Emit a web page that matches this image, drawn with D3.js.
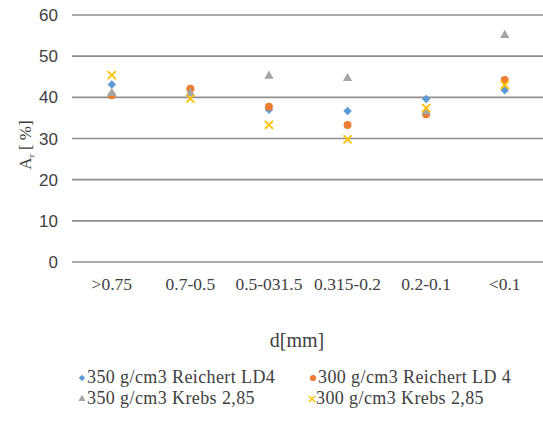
<!DOCTYPE html>
<html><head><meta charset="utf-8">
<script src="https://cdn.jsdelivr.net/npm/d3@7"></script>
<style>body{margin:0;background:#fff}svg{display:block}
.serif{font-family:"Liberation Serif","Times New Roman","DejaVu Serif",serif}
.sans{font-family:"Liberation Sans Narrow","Liberation Sans",Arial,sans-serif}
</style>
</head><body>
<script>
const categories = [">0.75", "0.7-0.5", "0.5-031.5", "0.315-0.2", "0.2-0.1", "<0.1"];
const reichert350 = [43.1, 42.0, 37.0, 36.7, 39.6, 41.7];
const reichert300 = [40.5, 42.1, 37.7, 33.3, 35.9, 44.2];
const krebs350 = [41.0, 41.0, 45.2, 44.6, 36.5, 55.1];
const krebs300 = [45.4, 39.7, 33.3, 29.8, 37.4, 43.0];
const yTicks = [0, 10, 20, 30, 40, 50, 60];
const seriesNames = ["350 g/cm3 Reichert LD4", "300 g/cm3 Reichert LD 4", "350 g/cm3 Krebs 2,85", "300 g/cm3 Krebs 2,85"];

const diamond = {draw(ctx, size) { const r = Math.sqrt(size / 2); ctx.moveTo(0, -r); ctx.lineTo(r, 0); ctx.lineTo(0, r); ctx.lineTo(-r, 0); ctx.closePath(); }};

const series = [
  {name: seriesNames[0], values: reichert350, color: "#5B9BD5", sym: diamond, size: 36},
  {name: seriesNames[1], values: reichert300, color: "#ED7D31", sym: d3.symbolCircle, size: 50},
  {name: seriesNames[2], values: krebs350, color: "#A5A5A5", sym: d3.symbolTriangle, size: 38},
  {name: seriesNames[3], values: krebs300, color: "#FFC000", sym: d3.symbolX, size: 44}
];

const W = 543, H = 432;
const svg = d3.select("body").append("svg").attr("width", W).attr("height", H);

const x = d3.scaleBand().domain(categories).range([72.5, 544]);
const y = d3.scaleLinear().domain([0, 60]).range([262, 15]);

// gridlines
svg.append("g").selectAll("line").data(yTicks).join("line")
  .attr("x1", 72).attr("x2", W)
  .attr("y1", d => y(d)).attr("y2", d => y(d))
  .attr("stroke", "#8e8e8e").attr("stroke-width", 1.6);

// y tick labels
svg.append("g").selectAll("text").data(yTicks).join("text")
  .attr("class", "sans")
  .attr("x", 58).attr("y", d => y(d)).attr("dy", "0.36em")
  .attr("text-anchor", "end")
  .attr("font-size", 17).attr("fill", "#404040")
  .text(d => d);

// x tick labels
svg.append("g").selectAll("text").data(categories).join("text")
  .attr("class", "serif")
  .attr("x", d => x(d) + x.bandwidth() / 2).attr("y", 290)
  .attr("text-anchor", "middle")
  .attr("font-size", 17.5).attr("fill", "#404040")
  .text(d => d);

// axis title x
svg.append("text").attr("class", "serif").attr("x", 297).attr("y", 347)
  .attr("text-anchor", "middle")
  .attr("font-size", 20).attr("fill", "#404040")
  .text("d[mm]");

// axis title y
const yt = svg.append("text").attr("class", "serif").attr("transform", "translate(31,145) rotate(-90)")
  .attr("text-anchor", "middle")
  .attr("font-size", 17).attr("fill", "#404040");
yt.append("tspan").text("A");
yt.append("tspan").attr("font-size", 9).attr("dy", 3).text("r");
yt.append("tspan").attr("dy", -3).text(" [ %]");

// markers
const g = svg.append("g");
series.forEach(s => {
  g.append("g").selectAll("path").data(s.values).join("path")
    .attr("transform", (d, i) => `translate(${x(categories[i]) + x.bandwidth() / 2},${y(d)})`)
    .attr("d", d3.symbol().type(s.sym).size(s.size))
    .attr("fill", s.sym === d3.symbolX ? "none" : s.color)
    .attr("stroke", s.sym === d3.symbolX ? s.color : "none")
    .attr("stroke-width", 1.8);
});

// legend
const legPos = [[82, 378], [313, 378], [82, 399], [312, 399]];
series.forEach((s, i) => {
  const [lx, ly] = legPos[i];
  svg.append("path")
    .attr("transform", `translate(${lx},${ly})`)
    .attr("d", d3.symbol().type(s.sym).size(s.size * 0.6))
    .attr("fill", s.sym === d3.symbolX ? "none" : s.color)
    .attr("stroke", s.sym === d3.symbolX ? s.color : "none")
    .attr("stroke-width", 1.4);
  svg.append("text").attr("class", "serif").attr("x", lx + (i === 3 ? 4 : 5)).attr("y", ly + 5)
    .attr("font-size", 18).attr("letter-spacing", 0.4).attr("fill", "#404040")
    .text(s.name);
});
</script>
</body></html>
